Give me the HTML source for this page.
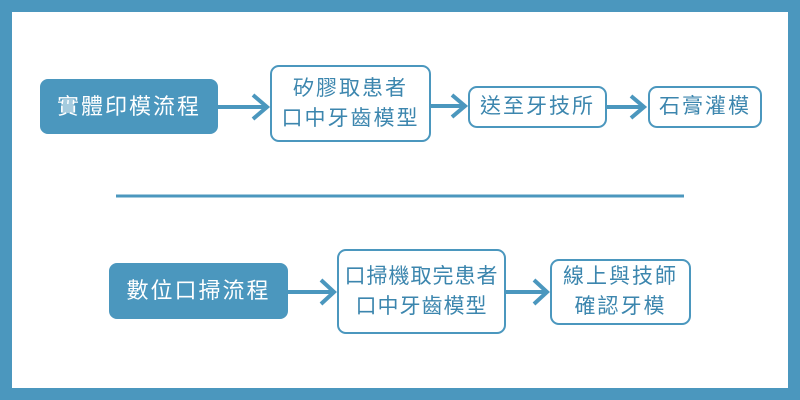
<!DOCTYPE html>
<html><head><meta charset="utf-8"><style>
body{margin:0;width:800px;height:400px;background:#4b97be;position:relative;overflow:hidden;font-family:"Liberation Sans","Noto Sans CJK TC",sans-serif}
.in{position:absolute;left:12px;top:12px;width:776px;height:376px;background:#fff}
.b{position:absolute;box-sizing:border-box;border:2.5px solid #4b97be;border-radius:9px;background:#fff;color:#3c86ae;font-size:21px;line-height:30px;display:flex;align-items:center;justify-content:center;text-align:center;letter-spacing:2px}
.f{background:#4b97be;color:#fff;font-size:22px;border-radius:8px;letter-spacing:2px}
svg{position:absolute;left:0;top:0}
</style></head><body>
<div class="in"></div>
<svg width="800" height="400">
<g stroke="#4b97be" stroke-width="4" fill="none">
<line x1="116" y1="196" x2="684" y2="196" stroke-width="3"/>
<line x1="218" y1="107" x2="266" y2="107"/><polyline points="253,95 267,107 253,119"/>
<line x1="431" y1="106" x2="464" y2="106"/><polyline points="452,95 465,106 452,117"/>
<line x1="607" y1="107" x2="643" y2="107"/><polyline points="631,96 644,107 631,118"/>
<line x1="288" y1="292" x2="333" y2="292"/><polyline points="321,280 334,292 321,304"/>
<line x1="506" y1="292" x2="546" y2="292"/><polyline points="534,280 547,292 534,304"/>
</g></svg>
<div class="b f" style="left:40px;top:79px;width:178px;height:55px">實體印模流程</div>
<div class="b" style="left:270px;top:65px;width:161px;height:77px">矽膠取患者<br>口中牙齒模型</div>
<div class="b" style="left:468px;top:86px;width:139px;height:42px">送至牙技所</div>
<div class="b" style="left:648px;top:86px;width:114px;height:42px">石膏灌模</div>
<div class="b f" style="left:109px;top:263px;width:179px;height:56px">數位口掃流程</div>
<div class="b" style="left:337px;top:249px;width:169px;height:85px;letter-spacing:1px">口掃機取完患者<br>口中牙齒模型</div>
<div class="b" style="left:550px;top:259px;width:141px;height:66px">線上與技師<br>確認牙模</div>
</body></html>
